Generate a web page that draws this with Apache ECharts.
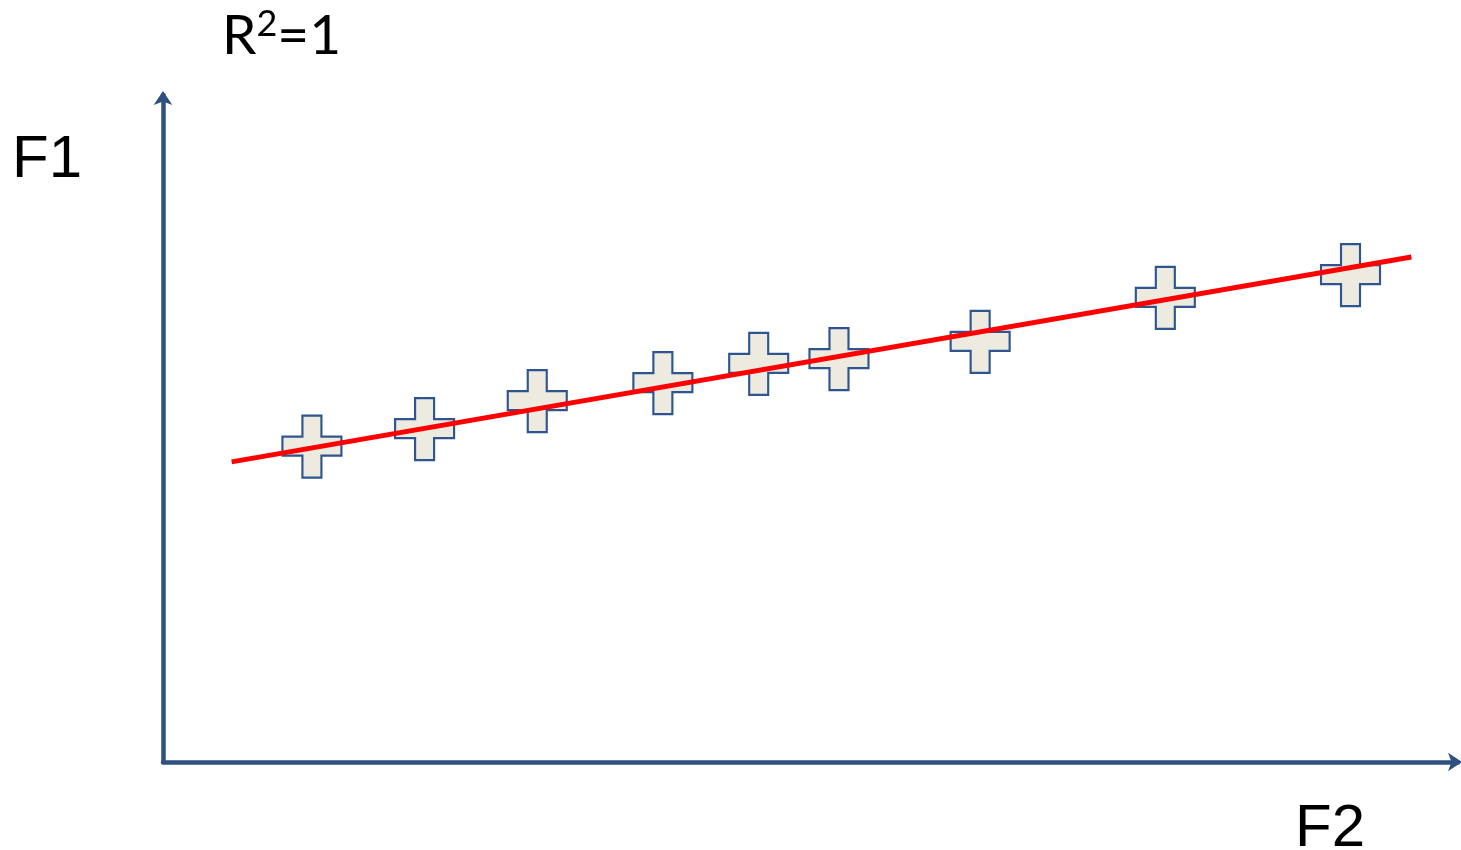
<!DOCTYPE html>
<html>
<head>
<meta charset="utf-8">
<script src="https://cdn.jsdelivr.net/npm/echarts@6/dist/echarts.min.js"></script>
<style>
html,body{margin:0;padding:0;background:#fff;}
#chart{width:1461px;height:850px;}
</style>
</head>
<body>
<div id="chart"></div>
<script>
// F2 (x) values of the points
var pointsF2 = [11.5, 20.2, 28.9, 38.6, 46.0, 52.2, 63.1, 77.4, 91.7];
// F1 (y) values of the points
var pointsF1 = [47.3, 49.9, 54.1, 56.8, 59.7, 60.4, 63.0, 69.6, 73.0];
// fitted line end points
var lineF2 = [5.3, 96.4];
var lineF1 = [45.0, 75.7];
var xAxisName = 'F2';
var yAxisName = 'F1';
var r2Label = 'R';

var chart = echarts.init(document.getElementById('chart'), null, {renderer: 'canvas'});

var scatterData = pointsF2.map(function (x, i) { return [x, pointsF1[i]]; });
var lineData = lineF2.map(function (x, i) { return [x, lineF1[i]]; });

var crossPath = 'path://M20,0 H39 V21 H59 V40 H39 V62 H20 V40 H0 V21 H20 Z';
var axisColor = '#2E5181';

chart.setOption({
  animation: false,
  backgroundColor: '#ffffff',
  grid: {left: 163, top: 95, width: 1295, height: 667, containLabel: false},
  xAxis: {
    type: 'value', min: 0, max: 100,
    axisLine: {show: true, onZero: false, symbol: ['none', 'arrow'], symbolSize: [14, 14], symbolOffset: [0, 4],
      lineStyle: {color: axisColor, width: 4.5}},
    axisTick: {show: false}, axisLabel: {show: false}, splitLine: {show: false}
  },
  yAxis: {
    type: 'value', min: 0, max: 100,
    axisLine: {show: true, onZero: false, symbol: ['none', 'arrow'], symbolSize: [14, 14], symbolOffset: [0, 4],
      lineStyle: {color: axisColor, width: 4.5}},
    axisTick: {show: false}, axisLabel: {show: false}, splitLine: {show: false}
  },
  series: [
    {
      type: 'scatter',
      data: scatterData,
      symbol: crossPath,
      symbolSize: [59, 62],
      z: 2,
      itemStyle: {color: '#EDEBE0', borderColor: '#2F5590', borderWidth: 2.2, opacity: 1}
    },
    {
      type: 'line',
      data: lineData,
      symbol: 'none',
      z: 3,
      lineStyle: {color: '#FF0000', width: 5}
    }
  ],
  graphic: [
    {type: 'text', left: 12, top: 130, z: 10,
      style: {text: yAxisName, font: '60px "Liberation Sans", Arial, sans-serif', fill: '#000'}},
    {type: 'text', left: 1295, top: 799, z: 10,
      style: {text: xAxisName, font: '60px "Liberation Sans", Arial, sans-serif', fill: '#000'}},
    {type: 'text', left: 222, top: 6, z: 10,
      style: {
        text: '{a|' + r2Label + '}{b|2}{a|=1}',
        rich: {
          a: {fontFamily: 'Lato, "Open Sans", sans-serif', fontSize: 55, fill: '#000', color: '#000', lineHeight: 60},
          b: {fontFamily: 'Lato, "Open Sans", sans-serif', fontSize: 36, fill: '#000', color: '#000', lineHeight: 60, verticalAlign: 'top', padding: [0, 0, 22, 0]}
        }
      }}
  ]
});
</script>
</body>
</html>
